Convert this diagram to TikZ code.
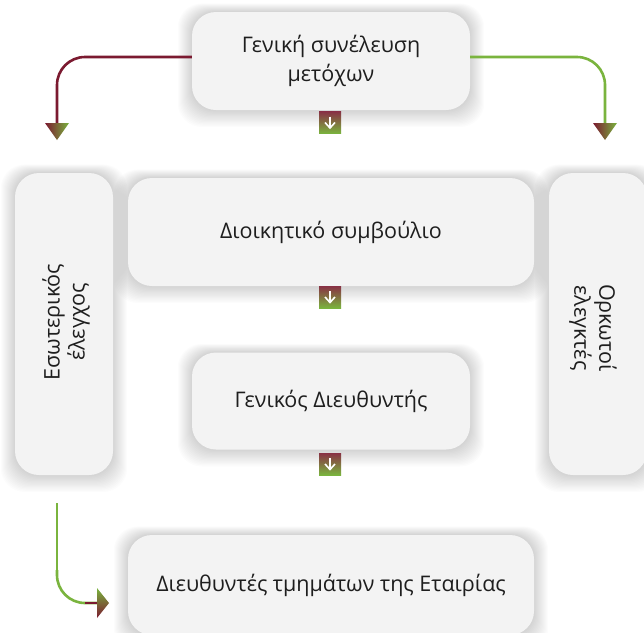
\documentclass[tikz,border=0pt]{standalone}
\usepackage{fontspec}
\setmainfont{Open Sans}
\usetikzlibrary{backgrounds}
\definecolor{boxfill}{HTML}{F3F3F3}
\definecolor{txt}{HTML}{1E1E1E}
\definecolor{wine}{HTML}{7B1A30}
\definecolor{leaf}{HTML}{7AB43E}
\tikzset{
  card/.style={draw=none, fill=boxfill, rounded corners=24pt, text=txt, align=center,
    font=\fontsize{21.5}{29}\selectfont},
  iconbox/.style={minimum width=22pt, minimum height=22pt, inner sep=0pt, draw=none,
    top color=wine!90, bottom color=leaf},
  conn/.style={line width=2.6pt, rounded corners=28pt},
  vtext/.style={align=center, text=txt, font=\fontsize{21.5}{25}\selectfont},
}
\newcommand{\cardshadow}[1]{%
  \foreach \k in {1,...,14}{%
    \fill[black, opacity=0.012, rounded corners=24pt]
      ([shift={(-\k,-\k*0.6)}]#1.north west) rectangle ([shift={(\k,\k*1.2)}]#1.south east);
  }}
\begin{document}
\begin{tikzpicture}[x=1pt,y=-1pt]
\useasboundingbox (0,0) rectangle (644,632);
\begin{scope}
\clip (0,0) rectangle (644,632);
% boxes
\node[card, minimum width=278pt, minimum height=98pt] (top) at (331,61) {Γενική συνέλευση\\μετόχων};
\node[card, minimum width=406pt, minimum height=108pt] (board) at (331,232) {Διοικητικό συμβούλιο};
\node[card, minimum width=98pt, minimum height=302pt] (internal) at (64,324) {};
\node[card, minimum width=98pt, minimum height=302pt] (auditors) at (598,324) {};
\node[card, minimum width=278pt, minimum height=97pt] (gm) at (331,401) {Γενικός Διευθυντής};
\node[card, minimum width=406pt, minimum height=100pt] (depts) at (331,585) {Διευθυντές τμημάτων της Εταιρίας};
\node[rotate=90, vtext] (internaltxt) at (66,322) {Εσωτερικός\\έλεγχος};
\node[rotate=-90, vtext] (auditorstxt) at (593,328) {Ορκωτοί\\ελεγκτές};
\begin{scope}[on background layer]
\fill[white] (-10,-10) rectangle (660,650);
\cardshadow{top}\cardshadow{board}\cardshadow{internal}\cardshadow{auditors}\cardshadow{gm}\cardshadow{depts}
\end{scope}
% icons
\foreach \n/\y in {ic1/122.5, ic2/297, ic3/464}{
  \node[iconbox] (\n) at (330,\y) {};
  \draw[white, line width=1.6pt] ([yshift=6pt]\n.center) -- ([yshift=-5pt]\n.center);
  \draw[white, line width=1.6pt, line join=miter] ([xshift=-5pt]\n.center) -- ([yshift=-5.5pt]\n.center) -- ([xshift=5pt]\n.center);
}
% arrow tips
\coordinate (tipL) at (57,126);
\coordinate (tipR) at (605,126);
\coordinate (tipB) at (99,603);
\coordinate (startB) at (57,503);
\draw[conn, wine] ([yshift=4pt]top.west) -| (tipL);
\draw[conn, leaf] ([yshift=4pt]top.east) -| (tipR);
\draw[conn, leaf] (startB) -- (57,575);
\draw[conn, leaf] (57,570) -- (57,603) -- (tipB);
\draw[line width=2.6pt, wine] (85,603) -- (tipB);
\shade[left color=wine, right color=leaf] (45,123) -- (69,123) -- (57,140) -- cycle;
\shade[left color=wine, right color=leaf] (593,123) -- (617,123) -- (605,140) -- cycle;
\shade[top color=leaf, bottom color=wine] (97,588) -- (109,603) -- (97,618) -- cycle;
\end{scope}
\end{tikzpicture}
\end{document}
